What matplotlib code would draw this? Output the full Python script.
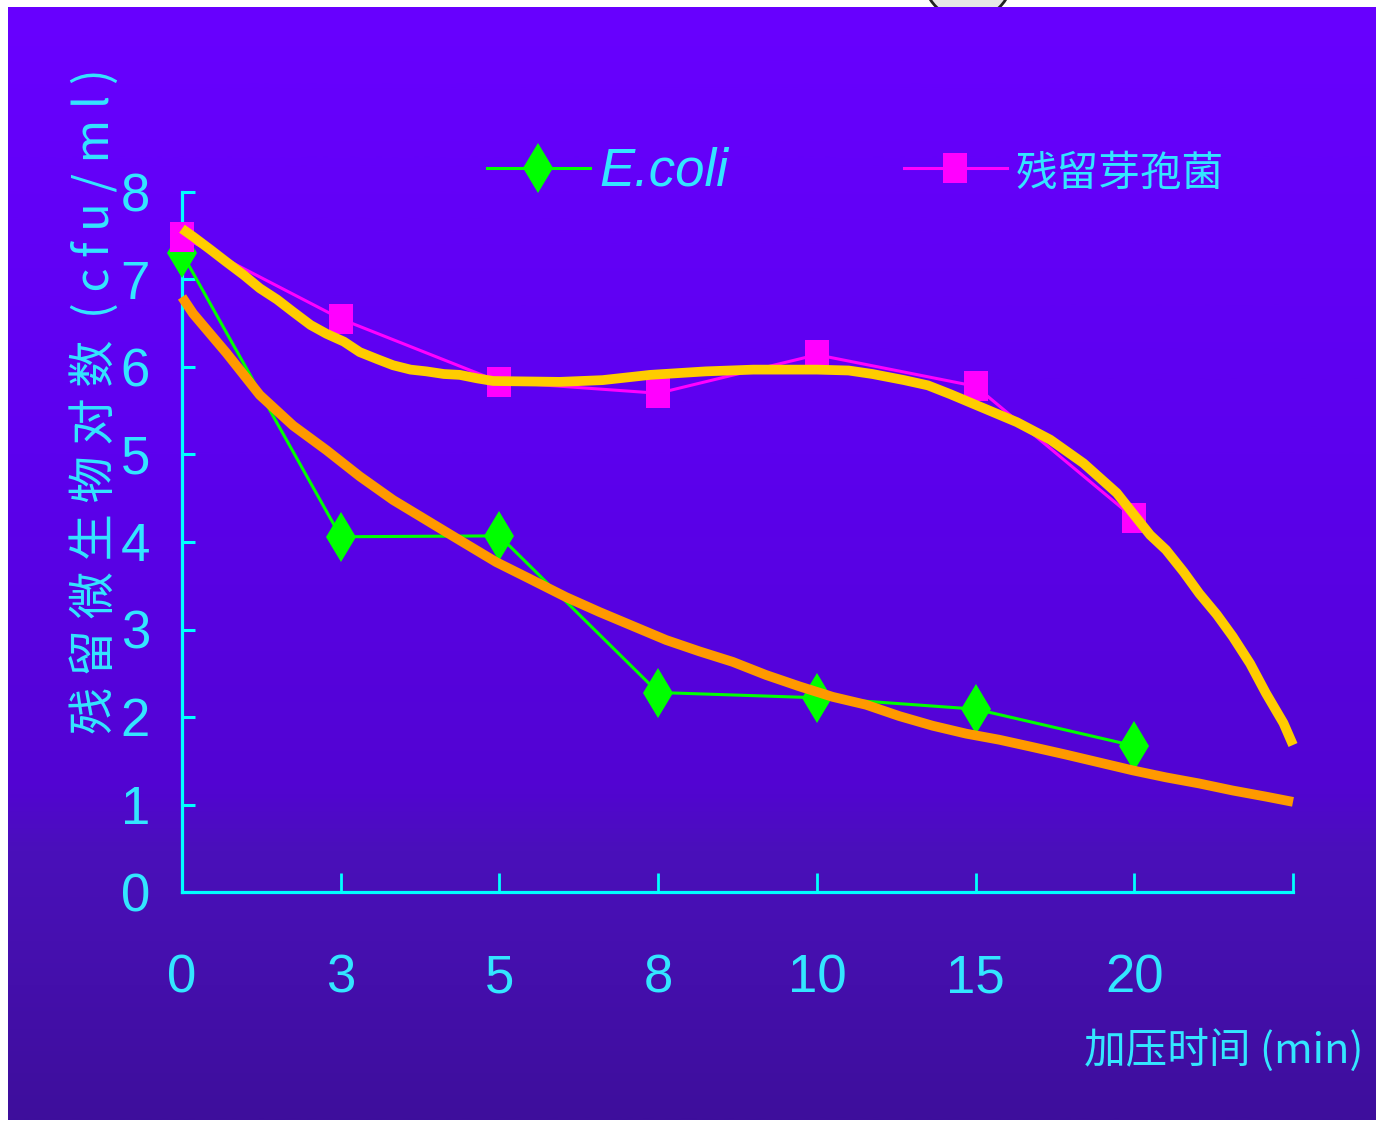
import numpy as np
import matplotlib
matplotlib.use("Agg")
import matplotlib.pyplot as plt
from matplotlib.colors import LinearSegmentedColormap
from matplotlib.patches import Ellipse

# pressure-hold time (min) and log counts of surviving organisms
times = ["0", "3", "5", "8", "10", "15", "20"]
ecoli = [7.30, 4.06, 4.07, 2.28, 2.22, 2.09, 1.67]
spores = [7.49, 6.55, 5.83, 5.70, 6.14, 5.78, 4.27]

# trend curves, sampled along the category axis
ecoli_trend_x = [0, 0.07, 0.28, 0.49, 0.70, 0.91, 1.12, 1.33, 1.54, 1.75,
                 1.98, 2.19, 2.42, 2.63, 2.84, 3.05, 3.26, 3.47, 3.68, 3.89,
                 4.10, 4.31, 4.52, 4.73, 4.94, 5.15, 5.35, 5.57, 5.78, 5.99,
                 6.20, 6.41, 6.62, 6.83, 7.0]
ecoli_trend_y = [6.80, 6.61, 6.16, 5.68, 5.33, 5.05, 4.75, 4.48, 4.25, 4.02,
                 3.77, 3.58, 3.37, 3.20, 3.04, 2.88, 2.75, 2.63, 2.48, 2.35,
                 2.23, 2.14, 2.01, 1.90, 1.81, 1.74, 1.66, 1.57, 1.48, 1.39,
                 1.31, 1.24, 1.16, 1.09, 1.03]
spore_trend_x = [0, 0.07, 0.18, 0.28, 0.39, 0.49, 0.60, 0.70, 0.81, 0.91,
                 1.02, 1.12, 1.23, 1.33, 1.44, 1.54, 1.65, 1.75, 1.86, 1.96,
                 2.38, 2.65, 2.95, 3.30, 3.60, 4.00, 4.20, 4.35, 4.55, 4.70,
                 4.84, 5.05, 5.26, 5.47, 5.68, 5.89, 5.99, 6.10, 6.20, 6.31,
                 6.41, 6.52, 6.62, 6.73, 6.83, 6.94, 7.0]
spore_trend_y = [7.58, 7.49, 7.34, 7.20, 7.05, 6.90, 6.77, 6.63, 6.48, 6.38,
                 6.29, 6.17, 6.09, 6.02, 5.97, 5.95, 5.92, 5.91, 5.87, 5.84,
                 5.83, 5.85, 5.91, 5.95, 5.97, 5.97, 5.96, 5.92, 5.85, 5.79,
                 5.69, 5.53, 5.37, 5.17, 4.90, 4.56, 4.33, 4.08, 3.91, 3.66,
                 3.41, 3.17, 2.92, 2.61, 2.27, 1.93, 1.68]

LATIN = ["Liberation Sans", "DejaVu Sans"]
CJK = ["Noto Sans CJK SC", "DejaVu Sans"]
TEXT = "#33E6FF"
AXIS = "#00FFFF"

W, H = 1376, 1123
fig = plt.figure(figsize=(W / 100, H / 100), dpi=100)
fig.patch.set_facecolor("white")

# purple backdrop, bright at the top and dull toward the bottom
bg = fig.add_axes([8 / W, 3 / H, 1 - 8 / W, 1 - 10 / H], zorder=-10)
bg_cmap = LinearSegmentedColormap.from_list(
    "bg",
    [(0.0, "#3E0E9C"), (0.24, "#4A10BA"), (0.30, "#5204D2"),
     (0.60, "#5C00EE"), (1.0, "#6800FF")],
)
bg.imshow(np.linspace(0, 1, 512)[:, None], aspect="auto", cmap=bg_cmap,
          origin="lower", extent=[0, 1, 0, 1])
bg.axis("off")

fig.add_artist(Ellipse((968 / W, 1 + 25 / H), 90 / W, 90 / H,
                       transform=fig.transFigure, facecolor="#E6E6E6",
                       edgecolor="#222222", lw=2, zorder=-20))

ax = fig.add_axes([182 / W, (H - 892) / H, (1293 - 182) / W, (892 - 192) / H])
ax.set_facecolor("none")

x = np.arange(len(times))
ax.plot(x, ecoli, color="#00FF00", lw=2.2, marker="d", markersize=25,
        markeredgewidth=0, clip_on=False, zorder=3, label="E.coli")
square = [(-0.8, -1), (0.8, -1), (0.8, 1), (-0.8, 1), (-0.8, -1)]
ax.plot(x, spores, color="#FF00FF", lw=2.2, marker=square, markersize=21,
        markeredgewidth=0, clip_on=False, zorder=3, label="残留芽孢菌")

ax.plot(ecoli_trend_x, ecoli_trend_y, color="#FF9900", lw=7,
        solid_capstyle="butt", clip_on=False, zorder=4)
ax.plot(spore_trend_x, spore_trend_y, color="#FFCC00", lw=7,
        solid_capstyle="butt", clip_on=False, zorder=4)

ax.set_xlim(0, 7)
ax.set_ylim(0, 8)
ax.set_xticks(range(8))
ax.set_xticklabels(times + [""])
ax.set_yticks(range(9))

for side in ("top", "right"):
    ax.spines[side].set_visible(False)
for side in ("left", "bottom"):
    ax.spines[side].set_color(AXIS)
    ax.spines[side].set_linewidth(2.3)

ax.tick_params(axis="x", direction="in", length=13.5, width=2, color=AXIS,
               pad=44, labelcolor=TEXT, labelsize=38)
ax.tick_params(axis="y", direction="in", length=9.5, width=2.2, color=AXIS,
               pad=23, labelcolor=TEXT, labelsize=38)
for lbl in ax.get_xticklabels() + ax.get_yticklabels():
    lbl.set_family(LATIN)

fig.text(95 / W, 1 - 401 / H, "残 留 微 生 物 对 数  ( c f u / m l )",
         rotation=90, ha="center", va="center", color=TEXT, fontsize=34,
         family=CJK)
fig.text(1363 / W, 1 - 1050 / H, "加压时间 (min)", ha="right", va="center",
         color=TEXT, fontsize=30, family=CJK)

leg = ax.legend(loc="center left", bbox_to_anchor=(487 / W, 1 - 172 / H),
                bbox_transform=fig.transFigure, ncol=2, frameon=False,
                borderpad=0, borderaxespad=0, handlelength=1.95,
                handletextpad=0.17, columnspacing=3.33,
                prop={"family": LATIN, "size": 38, "style": "italic"})
for txt in leg.get_texts():
    txt.set_color(TEXT)
leg.get_texts()[1].set_fontproperties({"family": CJK, "size": 30})

fig.savefig("out.png", dpi=100)
